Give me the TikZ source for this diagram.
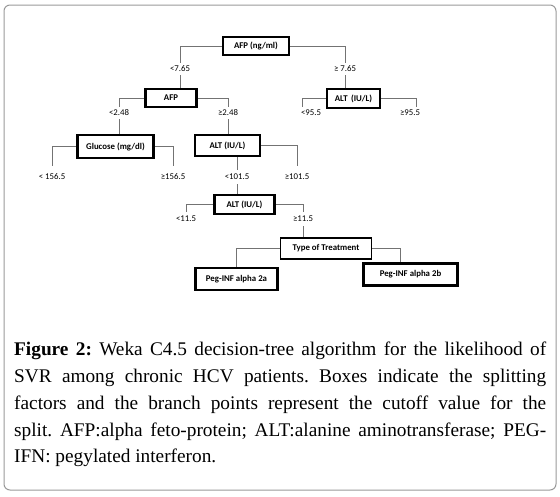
\documentclass[tikz,border=0pt]{standalone}
\usepackage{fontspec}
\setmainfont{Liberation Serif}
\newfontfamily\treefont{Carlito}
\begin{document}
\frenchspacing
\begin{tikzpicture}[x=1pt,y=-1pt,
  box/.style={draw=black, line width=2.6pt, fill=white, inner sep=0pt, font=\treefont\bfseries\fontsize{8.8}{9}\selectfont},
  thinbox/.style={box, line width=1.6pt},
  lbl/.style={inner sep=0pt, font=\treefont\fontsize{8.8}{9}\selectfont},
  conn/.style={draw=black!55, line width=0.8pt}]
\useasboundingbox (0,0) rectangle (560,496);
\draw[black!40, line width=1pt, rounded corners=6pt] (4,5) rectangle (556,490);
% boxes
\node[box, minimum width=66pt, minimum height=18pt] (root) at (256,46) {AFP (ng/ml)};
\node[box, minimum width=51pt, minimum height=18pt] (afp) at (171,98) {AFP};
\node[box, minimum width=53pt, minimum height=19pt] (altr) at (353.5,98.5) {ALT\, (IU/L)};
\node[box, minimum width=76pt, minimum height=23pt] (glu) at (115.5,146.5) {Glucose (mg/dl)};
\node[box, minimum width=65pt, minimum height=21pt] (altm) at (227.5,145.5) {ALT (IU/L)};
\node[box, minimum width=60pt, minimum height=19pt] (alt3) at (244.5,204.5) {ALT (IU/L)};
\node[thinbox, minimum width=91pt, minimum height=21pt] (type) at (326,248.5) {Type of Treatment};
\node[box, minimum width=82pt, minimum height=22pt] (p2a) at (236.5,279) {Peg-INF alpha 2a};
\node[box, minimum width=94pt, minimum height=22pt] (p2b) at (410.5,274.5) {Peg-INF alpha 2b};
% labels
\node[lbl] (l1) at (180,69) {<7.65};
\node[lbl] (r1) at (345,69) {≥ 7.65};
\node[lbl] (l2) at (119,113) {<2.48};
\node[lbl] (r2) at (228,113) {≥2.48};
\node[lbl] (l3) at (311,113) {<95.5};
\node[lbl] (r3) at (410,113) {≥95.5};
\node[lbl] (l4) at (52,177) {< 156.5};
\node[lbl] (r4) at (173,177) {≥156.5};
\node[lbl] (l5) at (237,177) {<101.5};
\node[lbl] (r5) at (297,177) {≥101.5};
\node[lbl] (l6) at (186,219) {<11.5};
\node[lbl] (r6) at (303,219) {≥11.5};
% connectors
\draw[conn] (root.west) -| ([yshift=3pt]l1.north);
\draw[conn] ([yshift=-3pt]l1.south) -- (afp.north -| l1);
\draw[conn] (root.east) -| ([yshift=3pt]r1.north);
\draw[conn] ([yshift=-3pt]r1.south) -- (altr.north -| r1);
\draw[conn] (afp.west) -| ([yshift=3pt]l2.north);
\draw[conn] ([yshift=-3pt]l2.south) -- (glu.north -| l2);
\draw[conn] (afp.east) -| ([yshift=3pt]r2.north);
\draw[conn] ([yshift=-3pt]r2.south) -- (altm.north -| r2);
\draw[conn] (altr.west) -| ([xshift=2pt,yshift=3pt]l3.north west);
\draw[conn] (altr.east) -| ([xshift=-4pt,yshift=3pt]r3.north east);
\draw[conn] (glu.west) -| ([yshift=8pt]l4.north);
\draw[conn] (glu.east) -| ([yshift=8pt]r4.north);
\draw[conn] (altm.east) -| ([yshift=8pt]r5.north);
\draw[conn] (altm.south -| l5) -- ([yshift=4pt]l5.north);
\draw[conn] ([yshift=-4pt]l5.south) -- (alt3.north -| l5);
\draw[conn] (alt3.west) -| ([yshift=4pt]l6.north);
\draw[conn] (alt3.east) -| ([yshift=4pt]r6.north);
\draw[conn] ([yshift=-4pt]r6.south) -- (type.north -| r6);
\draw[conn] (type.west) -| (p2a.north);
\draw[conn] (type.east) -| ([xshift=38pt]p2b.north west);
% caption
\node[anchor=north west, inner sep=0pt, text width=532pt, align=justify,
  font=\fontsize{19.3}{26.8}\selectfont] (cap) at (14,342)
 {\textbf{Figure 2:} Weka C4.5 decision-tree algorithm for the likelihood of\linebreak
 SVR among chronic HCV patients. Boxes indicate the splitting\linebreak
 factors and the branch points represent the cutoff value for the\linebreak
 split. AFP:alpha feto-protein; ALT:alanine aminotransferase; PEG-\linebreak
 IFN: pegylated interferon.};
\end{tikzpicture}
\end{document}
